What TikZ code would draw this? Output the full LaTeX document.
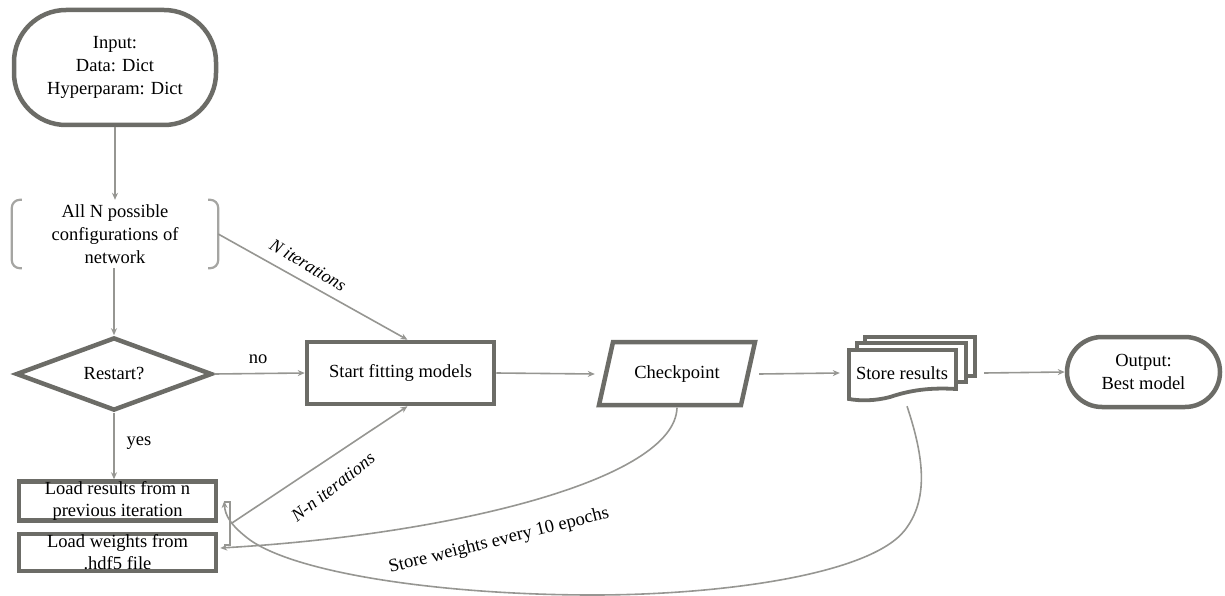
\documentclass[tikz,border=0pt]{standalone}
\usepackage{fontspec}
\setmainfont{Liberation Serif}
\newfontfamily\tnr{Liberation Serif}
\usetikzlibrary{arrows.meta,shapes.geometric,calc}
\definecolor{bord}{RGB}{108,108,103}
\definecolor{lncol}{RGB}{150,150,146}
\definecolor{brkcol}{RGB}{165,165,162}
\begin{document}
\begin{tikzpicture}[x=1pt,y=-1pt,
  txt/.style={font=\tnr\fontsize{18.5}{23}\selectfont, align=center},
  txtb/.style={font=\tnr\fontsize{18.5}{22}\selectfont, align=center},
  thickbox/.style={draw=bord, line width=4.5pt, fill=white},
  cline/.style={draw=lncol, line width=1.6pt},
  arr/.style={cline, -{Stealth[length=7pt,width=6pt]}},
  lbl/.style={font=\tnr\fontsize{18.5}{23}\selectfont},
  ilbl/.style={font=\tnr\fontsize{18}{22}\selectfont\itshape},
  brk/.style={draw=brkcol, line width=2.2pt, rounded corners=8pt}
]
\useasboundingbox (0,0) rectangle (1225,596);

% Input terminator
\node[thickbox, rounded corners=52pt, minimum width=202pt, minimum height=115pt, inner sep=0, txt] (inp) at (115,67.5) {Input:\\Data: Dict\\Hyperparam: Dict};

% Configurations (bracket annotation)
\node[txt, minimum width=206pt, minimum height=68pt, inner sep=0] (cfg) at (115,234) {All N possible\\configurations of\\network};
\draw[brk] ([xshift=10pt]cfg.north west) -- (cfg.north west) -- (cfg.south west) -- ([xshift=10pt]cfg.south west);
\draw[brk] ([xshift=-10pt]cfg.north east) -- (cfg.north east) -- (cfg.south east) -- ([xshift=-10pt]cfg.south east);

% Decision
\node[thickbox, diamond, minimum width=196pt, minimum height=64pt, inner sep=0, txt] (dia) at (114,374) {Restart?};

% Start fitting
\node[thickbox, minimum width=187pt, minimum height=62pt, txt] (fit) at (400.5,373) {Start fitting models};

% Checkpoint parallelogram
\draw[thickbox] (613,342) -- (755,342) -- (741,405) -- (599,405) -- cycle;
\node[txt, minimum width=164pt, minimum height=67pt, inner sep=0] (chk) at (677,374) {Checkpoint};

% Store results (multi-document)
\draw[thickbox, line width=3.8pt] (865,337) rectangle (975,376);
\draw[thickbox, line width=3.8pt] (857,343) rectangle (966,382);
\draw[thickbox, line width=3.8pt] (849,350) -- (956,350) -- (956,389)
   .. controls (925,387) and (905,392) .. (890,397)
   .. controls (875,401) and (860,401) .. (849,399) -- cycle;
\node[txt, minimum width=124pt, minimum height=66pt, inner sep=0] (store) at (902,373) {Store results};

% Output terminator
\node[thickbox, rounded corners=35pt, minimum width=153pt, minimum height=70pt, inner sep=0, txt] (out) at (1143.5,372) {Output:\\Best model};

% Load boxes
\node[thickbox, minimum width=197pt, minimum height=38pt, inner sep=0, txtb] (lr) at (117.5,501) {Load results from n\\previous iteration};
\node[thickbox, minimum width=197pt, minimum height=37pt, inner sep=0, txtb] (lw) at (117.5,552.5) {Load weights from\\.hdf5 file};

% small bracket joining the load boxes
\draw[cline, line width=1.3pt] (224,502) -- (230,502) -- (230,545) -- (224,545);
\coordinate (brkmid) at (232,523);

% Connectors
\draw[arr] (inp.south) -- (cfg.north);
\draw[arr] (cfg.south -| dia.north) -- (dia.north);
\draw[arr] (dia.east) -- (fit.west);
\node[lbl] (nolbl) at (258,359) {no};
\draw[arr] (dia.south) -- (dia.south |- lr.north);
\node[lbl] (yeslbl) at (139,443) {yes};
\draw[arr] (cfg.east) -- ([xshift=7pt]fit.north);
\node[ilbl, rotate=-31] (nit) at (308,265) {N iterations};
\draw[arr] (brkmid) -- ([xshift=7pt]fit.south);
\node[ilbl, rotate=38] (nnit) at (333,487) {N-n iterations};
\draw[arr] (fit.east) -- (chk.west);
\draw[arr] (chk.east) -- (store.west);
\draw[arr] ([xshift=20pt]store.east) -- (out.west);

% Curved connectors
\draw[arr] (chk.south) .. controls (675,480) and (450,535) .. ([yshift=4.5pt,xshift=2pt]lw.east);
\draw[arr] ([xshift=5pt]store.south) .. controls (925,460) and (928,500) .. (905,530)
   .. controls (870,575) and (720,595) .. (593,595)
   .. controls (450,595) and (300,575) .. (250,540)
   .. controls (230,525) and (225,515) .. ([xshift=6pt]lr.east);
\node[lbl, rotate=14] (swlbl) at (499,541) {Store weights every 10 epochs};
\end{tikzpicture}
\end{document}
